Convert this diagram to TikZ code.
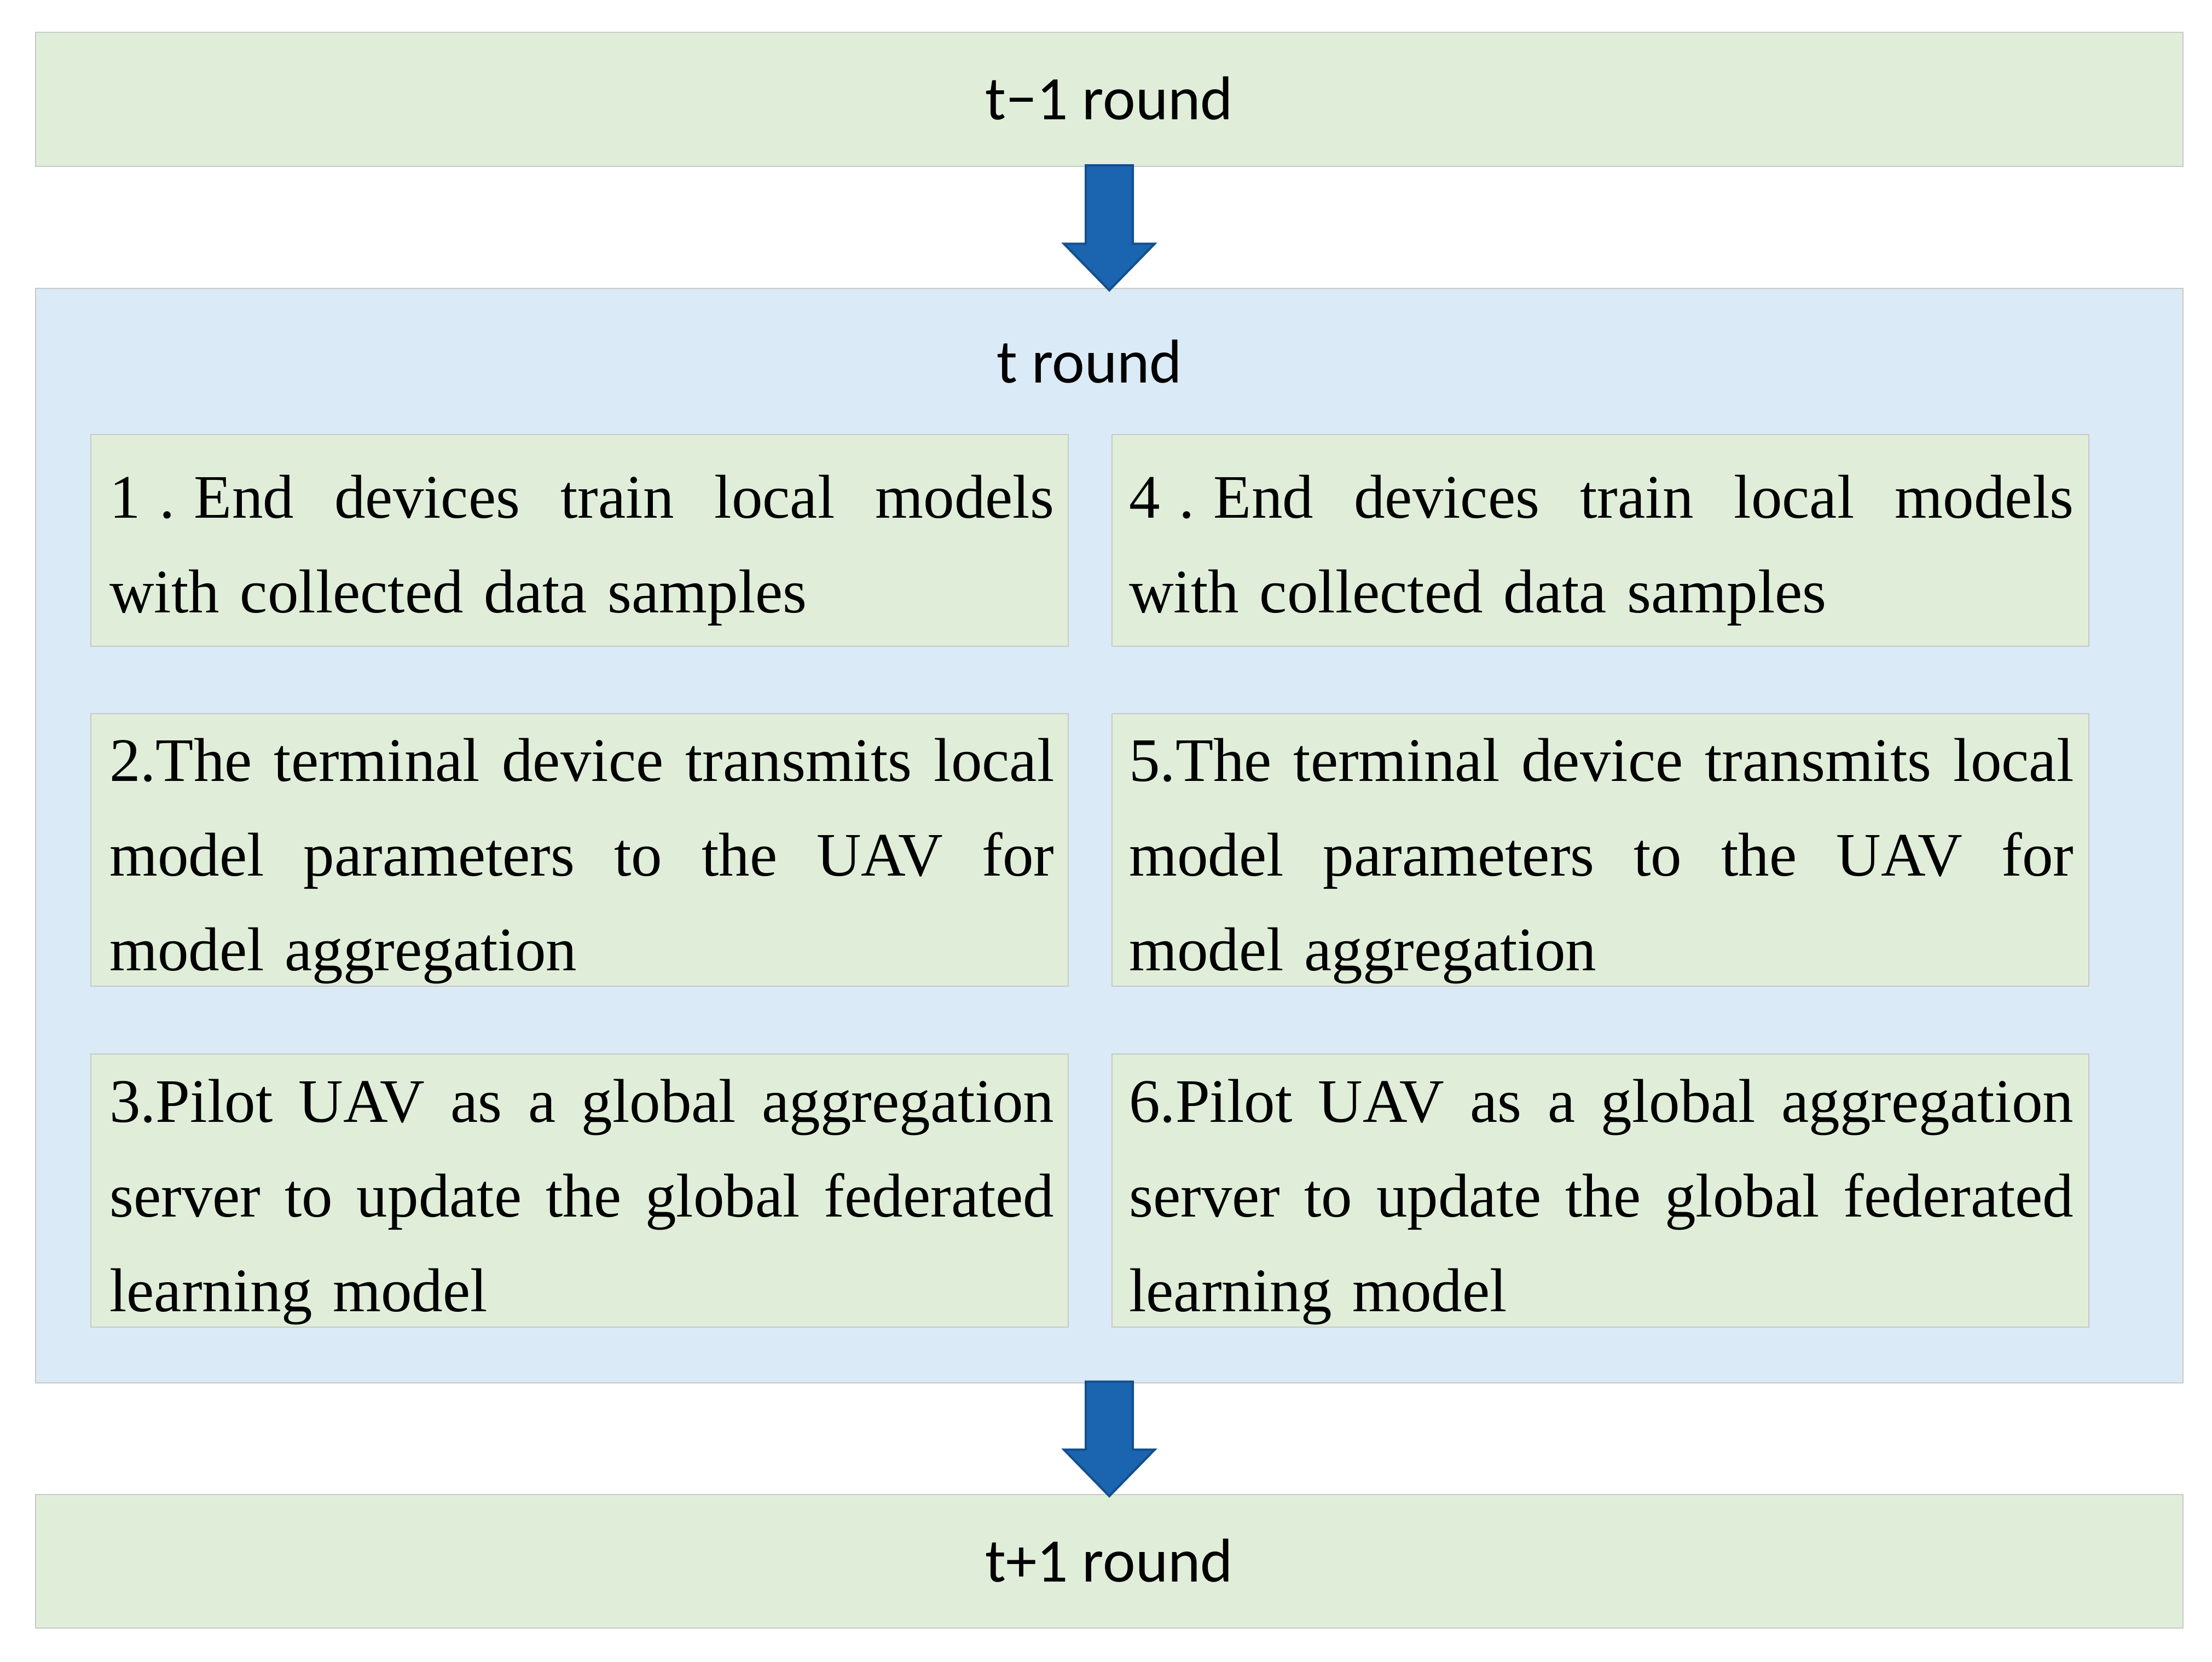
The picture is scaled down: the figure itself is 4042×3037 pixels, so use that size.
\documentclass[tikz,border=0pt]{standalone}
\usepackage{fontspec}
\setmainfont{Liberation Serif}
\newfontfamily\calfont{Carlito}
\usetikzlibrary{calc}
\definecolor{boxgreen}{HTML}{E0EED9}
\definecolor{boxblue}{HTML}{DAEAF6}
\definecolor{boxline}{HTML}{C8C8C8}
\definecolor{arrowfill}{HTML}{1B64AF}
\definecolor{arrowline}{HTML}{134F8E}
\newlength\stepw
\setlength\stepw{17.25cm}
\newcommand\jline[1]{\leavevmode\hbox to \stepw{\spaceskip=0.25em plus 1fil\relax #1}}
\newcommand\dotgap{\hspace{0.31em}.\hspace{0.31em}}
\newcommand\downblock[2]{%
  \draw[blockarrow] ($(#1.south)+(-43,-2)$) -- ($(#2.north)+(-43,-82)$)
    -- ($(#2.north)+(-83,-82)$) -- ($(#2.north)+(0,3)$)
    -- ($(#2.north)+(83,-82)$) -- ($(#2.north)+(43,-82)$)
    -- ($(#1.south)+(43,-2)$) -- cycle;}
\begin{document}
\begin{tikzpicture}[x=0.01cm,y=-0.01cm,
  panel/.style={draw=boxline, line width=0.02cm, inner sep=0pt, outer sep=0pt},
  greenpanel/.style={panel, fill=boxgreen},
  bluepanel/.style={panel, fill=boxblue},
  roundlabel/.style={font=\calfont\fontsize{32.15pt}{40pt}\selectfont, inner sep=0pt, anchor=base},
  steptext/.style={font=\fontsize{32.15pt}{49.22pt}\selectfont, text width=\stepw, align=left, inner sep=0pt, anchor=north west},
  blockarrow/.style={fill=arrowfill, draw=arrowline, line width=0.04cm, line join=miter}
]
\useasboundingbox (0,0) rectangle (4042,3037);

% outer panels
\node[greenpanel, minimum width=39.22cm, minimum height=2.45cm] (prev) at (2027,181.5) {};
\node[bluepanel, minimum width=39.22cm, minimum height=19.98cm] (cur) at (2027,1527) {};
\node[greenpanel, minimum width=39.22cm, minimum height=2.44cm] (next) at (2027,2853) {};

% inner step panels
\node[greenpanel, minimum width=17.84cm, minimum height=3.87cm] (s1) at (1059,987.5) {};
\node[greenpanel, minimum width=17.84cm, minimum height=4.98cm] (s2) at (1059,1553) {};
\node[greenpanel, minimum width=17.84cm, minimum height=4.99cm] (s3) at (1059,2175.5) {};
\node[greenpanel, minimum width=17.84cm, minimum height=3.87cm] (s4) at (2924,987.5) {};
\node[greenpanel, minimum width=17.84cm, minimum height=4.98cm] (s5) at (2924,1553) {};
\node[greenpanel, minimum width=17.84cm, minimum height=4.99cm] (s6) at (2924,2175.5) {};

% labels
\node[roundlabel] (prevlabel) at (2027,219) {t−1 round};
\node[roundlabel] (curlabel) at (1991,699) {t round};
\node[roundlabel] (nextlabel) at (2027,2890) {t+1 round};

% step texts
\node[steptext] (t1) at ($(s1.north west)+(33,0)$) {\noindent\rule{0pt}{1.52cm}\jline{1\dotgap End devices train local models}\\with collected data samples};
\node[steptext] (t2) at ($(s2.north west)+(33,0)$) {\noindent\rule{0pt}{1.23cm}\jline{2.The terminal device transmits local}\\\jline{model parameters to the UAV for}\\model aggregation};
\node[steptext] (t3) at ($(s3.north west)+(33,0)$) {\noindent\rule{0pt}{1.24cm}\jline{3.Pilot UAV as a global aggregation}\\\jline{server to update the global federated}\\learning model};
\node[steptext] (t4) at ($(s4.north west)+(31,0)$) {\noindent\rule{0pt}{1.52cm}\jline{4\dotgap End devices train local models}\\with collected data samples};
\node[steptext] (t5) at ($(s5.north west)+(31,0)$) {\noindent\rule{0pt}{1.23cm}\jline{5.The terminal device transmits local}\\\jline{model parameters to the UAV for}\\model aggregation};
\node[steptext] (t6) at ($(s6.north west)+(31,0)$) {\noindent\rule{0pt}{1.24cm}\jline{6.Pilot UAV as a global aggregation}\\\jline{server to update the global federated}\\learning model};

% block arrows
\downblock{prev}{cur}
\downblock{cur}{next}
\end{tikzpicture}
\end{document}
